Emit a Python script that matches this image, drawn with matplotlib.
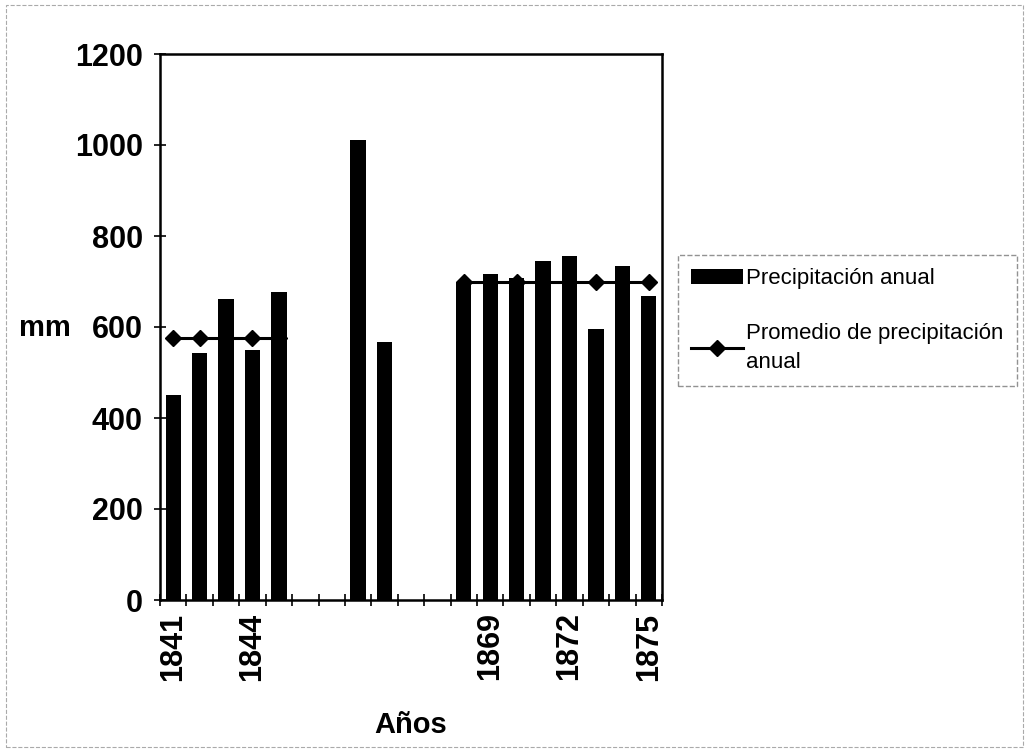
import numpy as np
import matplotlib
matplotlib.use("Agg")
import matplotlib.pyplot as plt
from matplotlib.patches import Rectangle

plt.rcParams['font.family'] = ['Liberation Sans', 'DejaVu Sans']

# categories (blank names where the axis shows no label)
years = ['1841', '1842', '1843', '1844', '1845', '', '', '', '', '', '',
         '1868', '1869', '1870', '1871', '1872', '1873', '1874', '1875']
tick_labels = ['1841', '1844', '', '', '1869', '1872', '1875']

# annual precipitation (mm), NaN = no bar
precip = [450, 543, 661, 549, 677, np.nan, np.nan, 1011, 567, np.nan, np.nan,
          700, 716, 707, 745, 755, 595, 735, 668]
# mean precipitation of each period
promedio = [575, 575, 575, 575, 575, np.nan, np.nan, np.nan, np.nan, np.nan, np.nan,
            700, 700, 700, 700, 700, 700, 700, 700]

x = np.arange(len(years))

fig = plt.figure(figsize=(10.29, 7.5), dpi=100)
ax = fig.add_axes([0.1555, 0.2, 0.4878, 0.728])

ax.plot(x, promedio, color='black', lw=2.2, marker='D', ms=8, zorder=2,
        label='Promedio de precipitación\nanual')
ax.bar(x, precip, width=0.58, color='black', zorder=3, label='Precipitación anual')

ax.set_xlim(-0.5, len(years) - 0.5)
ax.set_ylim(0, 1200)
ax.set_yticks(range(0, 1201, 200))

ax.set_xticks(x[::3])
ax.set_xticklabels(tick_labels, rotation=90, fontsize=22, fontweight='bold')
ax.set_xticks(np.arange(-0.5, len(years), 1), minor=True)
ax.tick_params(axis='x', which='major', length=0, pad=9)
ax.tick_params(axis='x', which='minor', direction='inout', length=9, width=1.2)
ax.tick_params(axis='y', direction='inout', length=9, width=1.2, labelsize=22, pad=8)
for lab in ax.get_yticklabels():
    lab.set_fontweight('bold')

for s in ax.spines.values():
    s.set_linewidth(1.8)

ax.set_xlabel('Años', fontsize=21, fontweight='bold', labelpad=22)
fig.text(0.018, 1 - 328 / 750, 'mm', fontsize=21, fontweight='bold', va='center', ha='left')

h, l = ax.get_legend_handles_labels()
leg = fig.legend(h[::-1], l[::-1], loc='upper left', bbox_to_anchor=(0.659, 0.66),
                 fontsize=16, frameon=True, fancybox=False, handlelength=2.3,
                 labelspacing=1.5, borderpad=0.6, borderaxespad=0, handletextpad=0.15)
leg.get_texts()[1].set_linespacing(1.5)
leg.get_frame().set_edgecolor('#777777')
leg.get_frame().set_linestyle('--')
leg.get_frame().set_linewidth(1.0)

# faint outer frame of the scanned figure
fig.patches.append(Rectangle((0.006, 0.004), 0.988, 0.99, transform=fig.transFigure,
                             fill=False, ec='#aaaaaa', lw=0.8, ls='--'))

fig.savefig('out.png', dpi=100)
